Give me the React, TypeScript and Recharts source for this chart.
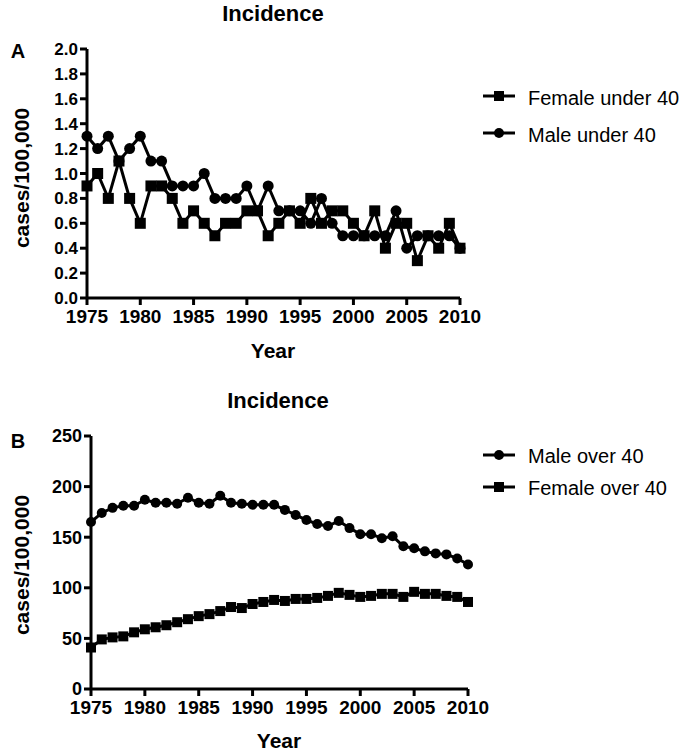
import React from 'react';
import { LineChart, Line, XAxis, YAxis } from 'recharts';

const years = [1975, 1976, 1977, 1978, 1979, 1980, 1981, 1982, 1983, 1984, 1985, 1986, 1987, 1988, 1989, 1990, 1991, 1992, 1993, 1994, 1995, 1996, 1997, 1998, 1999, 2000, 2001, 2002, 2003, 2004, 2005, 2006, 2007, 2008, 2009, 2010];

const femaleUnder40 = [0.9, 1.0, 0.8, 1.1, 0.8, 0.6, 0.9, 0.9, 0.8, 0.6, 0.7, 0.6, 0.5, 0.6, 0.6, 0.7, 0.7, 0.5, 0.6, 0.7, 0.6, 0.8, 0.6, 0.7, 0.7, 0.6, 0.5, 0.7, 0.4, 0.6, 0.6, 0.3, 0.5, 0.4, 0.6, 0.4];
const maleUnder40 = [1.3, 1.2, 1.3, 1.1, 1.2, 1.3, 1.1, 1.1, 0.9, 0.9, 0.9, 1.0, 0.8, 0.8, 0.8, 0.9, 0.7, 0.9, 0.7, 0.7, 0.7, 0.6, 0.8, 0.6, 0.5, 0.5, 0.5, 0.5, 0.5, 0.7, 0.4, 0.5, 0.5, 0.5, 0.5, 0.4];

const maleOver40 = [165, 174, 179, 181, 181, 187, 184, 184, 183, 189, 184, 183, 191, 184, 183, 182, 182, 182, 177, 172, 167, 163, 161, 166, 159, 153, 153, 149, 151, 141, 139, 136, 134, 133, 129, 123];
const femaleOver40 = [41, 49, 51, 52, 56, 59, 61, 63, 66, 69, 72, 74, 77, 81, 80, 84, 86, 88, 87, 89, 89, 90, 92, 95, 93, 91, 92, 94, 94, 91, 96, 94, 94, 92, 91, 86];

const xTicks = [1975, 1980, 1985, 1990, 1995, 2000, 2005, 2010];
const yTicksA = [0, 0.2, 0.4, 0.6, 0.8, 1.0, 1.2, 1.4, 1.6, 1.8, 2.0];
const yTicksB = [0, 50, 100, 150, 200, 250];

const dataA = years.map((year, i) => ({ year, femaleUnder40: femaleUnder40[i], maleUnder40: maleUnder40[i] }));
const dataB = years.map((year, i) => ({ year, maleOver40: maleOver40[i], femaleOver40: femaleOver40[i] }));

const FONT = '"Liberation Sans", Arial, Helvetica, sans-serif';

const squareDot = (size: number) => (props: any) => {
  const { cx, cy, index } = props;
  if (cx == null || cy == null) return <g key={`s-${index}`} />;
  return <rect key={`s-${index}`} x={cx - size / 2} y={cy - size / 2} width={size} height={size} fill="#000" />;
};

const axisCommon = {
  axisLine: { stroke: '#000', strokeWidth: 3 },
  tickLine: { stroke: '#000', strokeWidth: 3 },
  tickSize: 7,
  interval: 0 as const,
};

export default function App() {
  return (
    <div style={{ position: 'absolute', left: 0, top: 0, width: 686, height: 754, background: '#fff', fontFamily: FONT }}>
      <div style={{ position: 'absolute', left: 0, top: 0 }}>
        <LineChart width={686} height={380} data={dataA} margin={{ top: 49, right: 226, bottom: 52, left: 27 }}>
          <XAxis
            dataKey="year"
            type="number"
            domain={[1975, 2010]}
            ticks={xTicks}
            height={30}
            tickMargin={5}
            tick={{ fill: '#000', fontSize: 19, fontWeight: 'bold', fontFamily: FONT }}
            {...axisCommon}
          />
          <YAxis
            type="number"
            domain={[0, 2]}
            ticks={yTicksA}
            width={60}
            tickMargin={2}
            tickFormatter={(v: number) => v.toFixed(1)}
            tick={{ fill: '#000', fontSize: 17, fontWeight: 'bold', fontFamily: FONT }}
            {...axisCommon}
          />
          <Line type="linear" dataKey="maleUnder40" stroke="#000" strokeWidth={3} dot={{ r: 5.5, fill: '#000', stroke: '#000', strokeWidth: 0 }} activeDot={false} isAnimationActive={false} />
          <Line type="linear" dataKey="femaleUnder40" stroke="#000" strokeWidth={3} dot={squareDot(11)} activeDot={false} isAnimationActive={false} />
        </LineChart>
      </div>
      <div style={{ position: 'absolute', left: 0, top: 380 }}>
        <LineChart width={686} height={374} data={dataB} margin={{ top: 56, right: 218, bottom: 35, left: 31 }}>
          <XAxis
            dataKey="year"
            type="number"
            domain={[1975, 2010]}
            ticks={xTicks}
            height={30}
            tickMargin={5}
            tick={{ fill: '#000', fontSize: 19, fontWeight: 'bold', fontFamily: FONT }}
            {...axisCommon}
          />
          <YAxis
            type="number"
            domain={[0, 250]}
            ticks={yTicksB}
            width={60}
            tickMargin={2}
            tick={{ fill: '#000', fontSize: 18, fontWeight: 'bold', fontFamily: FONT }}
            {...axisCommon}
          />
          <Line type="linear" dataKey="maleOver40" stroke="#000" strokeWidth={3} dot={{ r: 5, fill: '#000', stroke: '#000', strokeWidth: 0 }} activeDot={false} isAnimationActive={false} />
          <Line type="linear" dataKey="femaleOver40" stroke="#000" strokeWidth={3} dot={squareDot(10)} activeDot={false} isAnimationActive={false} />
        </LineChart>
      </div>
      <svg width={686} height={754} style={{ position: 'absolute', left: 0, top: 0, pointerEvents: 'none' }} fontFamily={FONT}>
        <text x={273} y={21} textAnchor="middle" fontSize={22} fontWeight="bold" fill="#000">Incidence</text>
        <text x={18} y={58} textAnchor="middle" fontSize={20} fontWeight="bold" fill="#000">A</text>
        <text transform="translate(29,178) rotate(-90)" textAnchor="middle" fontSize={21} fontWeight="bold" fill="#000">cases/100,000</text>
        <text x={273} y={358} textAnchor="middle" fontSize={21} fontWeight="bold" fill="#000">Year</text>

        <line x1={483} x2={515} y1={96} y2={96} stroke="#000" strokeWidth={3} />
        <rect x={494} y={91} width={10} height={10} fill="#000" />
        <text x={528} y={105} fontSize={20} fill="#000">Female under 40</text>
        <line x1={483} x2={515} y1={133} y2={133} stroke="#000" strokeWidth={3} />
        <circle cx={499} cy={133} r={5} fill="#000" />
        <text x={528} y={142} fontSize={20} fill="#000">Male under 40</text>

        <text x={278} y={408} textAnchor="middle" fontSize={22} fontWeight="bold" fill="#000">Incidence</text>
        <text x={18} y={448} textAnchor="middle" fontSize={20} fontWeight="bold" fill="#000">B</text>
        <text transform="translate(29,565) rotate(-90)" textAnchor="middle" fontSize={21} fontWeight="bold" fill="#000">cases/100,000</text>
        <text x={279} y={748} textAnchor="middle" fontSize={21} fontWeight="bold" fill="#000">Year</text>

        <line x1={483} x2={515} y1={455} y2={455} stroke="#000" strokeWidth={3} />
        <circle cx={499} cy={455} r={5} fill="#000" />
        <text x={528} y={463} fontSize={20} fill="#000">Male over 40</text>
        <line x1={483} x2={515} y1={487} y2={487} stroke="#000" strokeWidth={3} />
        <rect x={494} y={482} width={10} height={10} fill="#000" />
        <text x={528} y={495} fontSize={20} fill="#000">Female over 40</text>
      </svg>
    </div>
  );
}
